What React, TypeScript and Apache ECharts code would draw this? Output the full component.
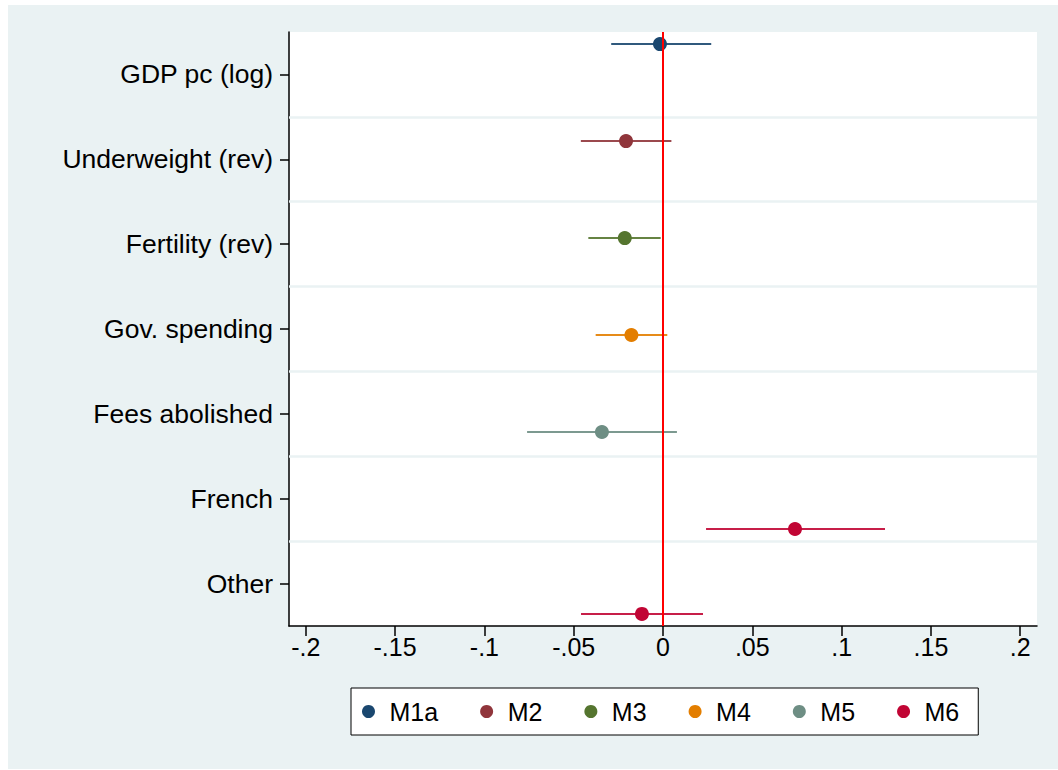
import React, { useEffect, useRef } from "react";
import * as echarts from "echarts";

const categories = [
  "GDP pc (log)",
  "Underweight (rev)",
  "Fertility (rev)",
  "Gov. spending",
  "Fees abolished",
  "French",
  "Other",
];
const models = ["M1a", "M2", "M3", "M4", "M5", "M6"];
const modelColors = ["#1A476F", "#90353B", "#55752F", "#E37E00", "#6E8E84", "#C10534"];

// per model: category index, point estimate, lower and upper CI bound
const coefCategory = [[0], [1], [2], [3], [4], [5, 6]];
const coefEstimate = [[-0.0017], [-0.0207], [-0.0214], [-0.0177], [-0.0342], [0.0739, -0.0118]];
const coefLower = [[-0.029], [-0.046], [-0.0418], [-0.0377], [-0.0761], [0.0241, -0.0459]];
const coefUpper = [[0.027], [0.0047], [-0.0013], [0.0024], [0.0078], [0.1243, 0.0224]];

const xTicks = [-0.2, -0.15, -0.1, -0.05, 0, 0.05, 0.1, 0.15, 0.2];
const zeroLine = 0;

const FONT = "'Liberation Sans', Arial, Helvetica, sans-serif";

function fmtTick(v: number): string {
  const r = Math.round(v * 100) / 100;
  if (r === 0) return "0";
  let s = String(r);
  s = s.replace("0.", ".");
  return s;
}

export default function App() {
  const ref = useRef<HTMLDivElement>(null);

  useEffect(() => {
    if (!ref.current) return;
    const chart = echarts.init(ref.current, null, { renderer: "svg" });
    const nModels = models.length;
    const offsetOf = (i: number) => (i - (nModels - 1) / 2) / (nModels + 1);

    const series: any[] = [];
    // separators between categories
    series.push({
      type: "line",
      name: "separators",
      data: [],
      z: 1,
      markLine: {
        silent: true,
        symbol: "none",
        label: { show: false },
        lineStyle: { color: "#EAF2F3", width: 2.5, type: "solid" },
        data: categories.slice(1).map((_, i) => ({ yAxis: i + 1.5 })),
      },
    });
    models.forEach((m, i) => {
      const ys = coefCategory[i].map((c) => c + 1 + offsetOf(i));
      series.push({
        type: "custom",
        name: m + " CI",
        data: coefLower[i].map((lo, k) => [lo, coefUpper[i][k], ys[k]]),
        encode: { x: [0, 1], y: 2 },
        z: 2,
        silent: true,
        renderItem: (params: any, api: any) => {
          const p1 = api.coord([api.value(0), api.value(2)]);
          const p2 = api.coord([api.value(1), api.value(2)]);
          return {
            type: "line",
            shape: { x1: p1[0], y1: p1[1], x2: p2[0], y2: p2[1] },
            style: { stroke: modelColors[i], lineWidth: 2, opacity: 0.9 },
          };
        },
      });
    });
    models.forEach((m, i) => {
      const ys = coefCategory[i].map((c) => c + 1 + offsetOf(i));
      series.push({
        type: "scatter",
        name: m,
        data: coefEstimate[i].map((e, k) => [e, ys[k]]),
        symbol: "circle",
        symbolSize: 14,
        itemStyle: { color: modelColors[i], opacity: 1 },
        z: 3,
      });
    });
    series.push({
      type: "line",
      name: "zero",
      data: [],
      z: 10,
      markLine: {
        silent: true,
        symbol: "none",
        label: { show: false },
        lineStyle: { color: "#FF0000", width: 2, type: "solid" },
        data: [{ xAxis: zeroLine }],
      },
    });

    chart.setOption({
      animation: false,
      backgroundColor: "#EAF2F3",
      textStyle: { fontFamily: FONT },
      grid: {
        left: 281,
        right: 21,
        top: 27,
        bottom: 143,
        show: true,
        backgroundColor: "#FFFFFF",
        borderWidth: 0,
      },
      legend: {
        data: models.map((name) => ({ name, icon: "circle" })),
        left: 343,
        top: 683,
        orient: "horizontal",
        itemWidth: 32,
        itemHeight: 13,
        itemGap: 42,
        padding: [11, 19, 11, 11],
        borderColor: "#000000",
        borderWidth: 1,
        backgroundColor: "#FFFFFF",
        textStyle: { fontSize: 25, color: "#000000", fontFamily: FONT },
        selectedMode: false,
      },
      xAxis: {
        type: "value",
        min: -0.2094,
        max: 0.2094,
        axisLine: { show: true, onZero: false, lineStyle: { color: "#000000", width: 1.5 } },
        axisTick: {
          show: true,
          length: 10,
          customValues: xTicks,
          lineStyle: { color: "#000000", width: 1.5 },
        },
        axisLabel: {
          customValues: xTicks,
          formatter: (v: number) => fmtTick(v),
          fontSize: 25,
          color: "#000000",
          margin: 8,
          fontFamily: FONT,
        },
        splitLine: { show: false },
      },
      yAxis: {
        type: "value",
        inverse: true,
        min: 0.5,
        max: 7.5,
        interval: 1,
        axisLine: { show: true, onZero: false, lineStyle: { color: "#000000", width: 1.5 } },
        axisTick: {
          show: true,
          length: 9,
          customValues: categories.map((_, i) => i + 1),
          lineStyle: { color: "#000000", width: 1.5 },
        },
        axisLabel: {
          customValues: categories.map((_, i) => i + 1),
          formatter: (v: number) => categories[Math.round(v) - 1] ?? "",
          fontSize: 26.5,
          color: "#000000",
          margin: 16,
          fontFamily: FONT,
        },
        splitLine: { show: false },
      },
      series,
    });
    return () => chart.dispose();
  }, []);

  return (
    <div
      ref={ref}
      style={{ position: "absolute", left: 8, top: 5, width: 1050, height: 764 }}
    />
  );
}
